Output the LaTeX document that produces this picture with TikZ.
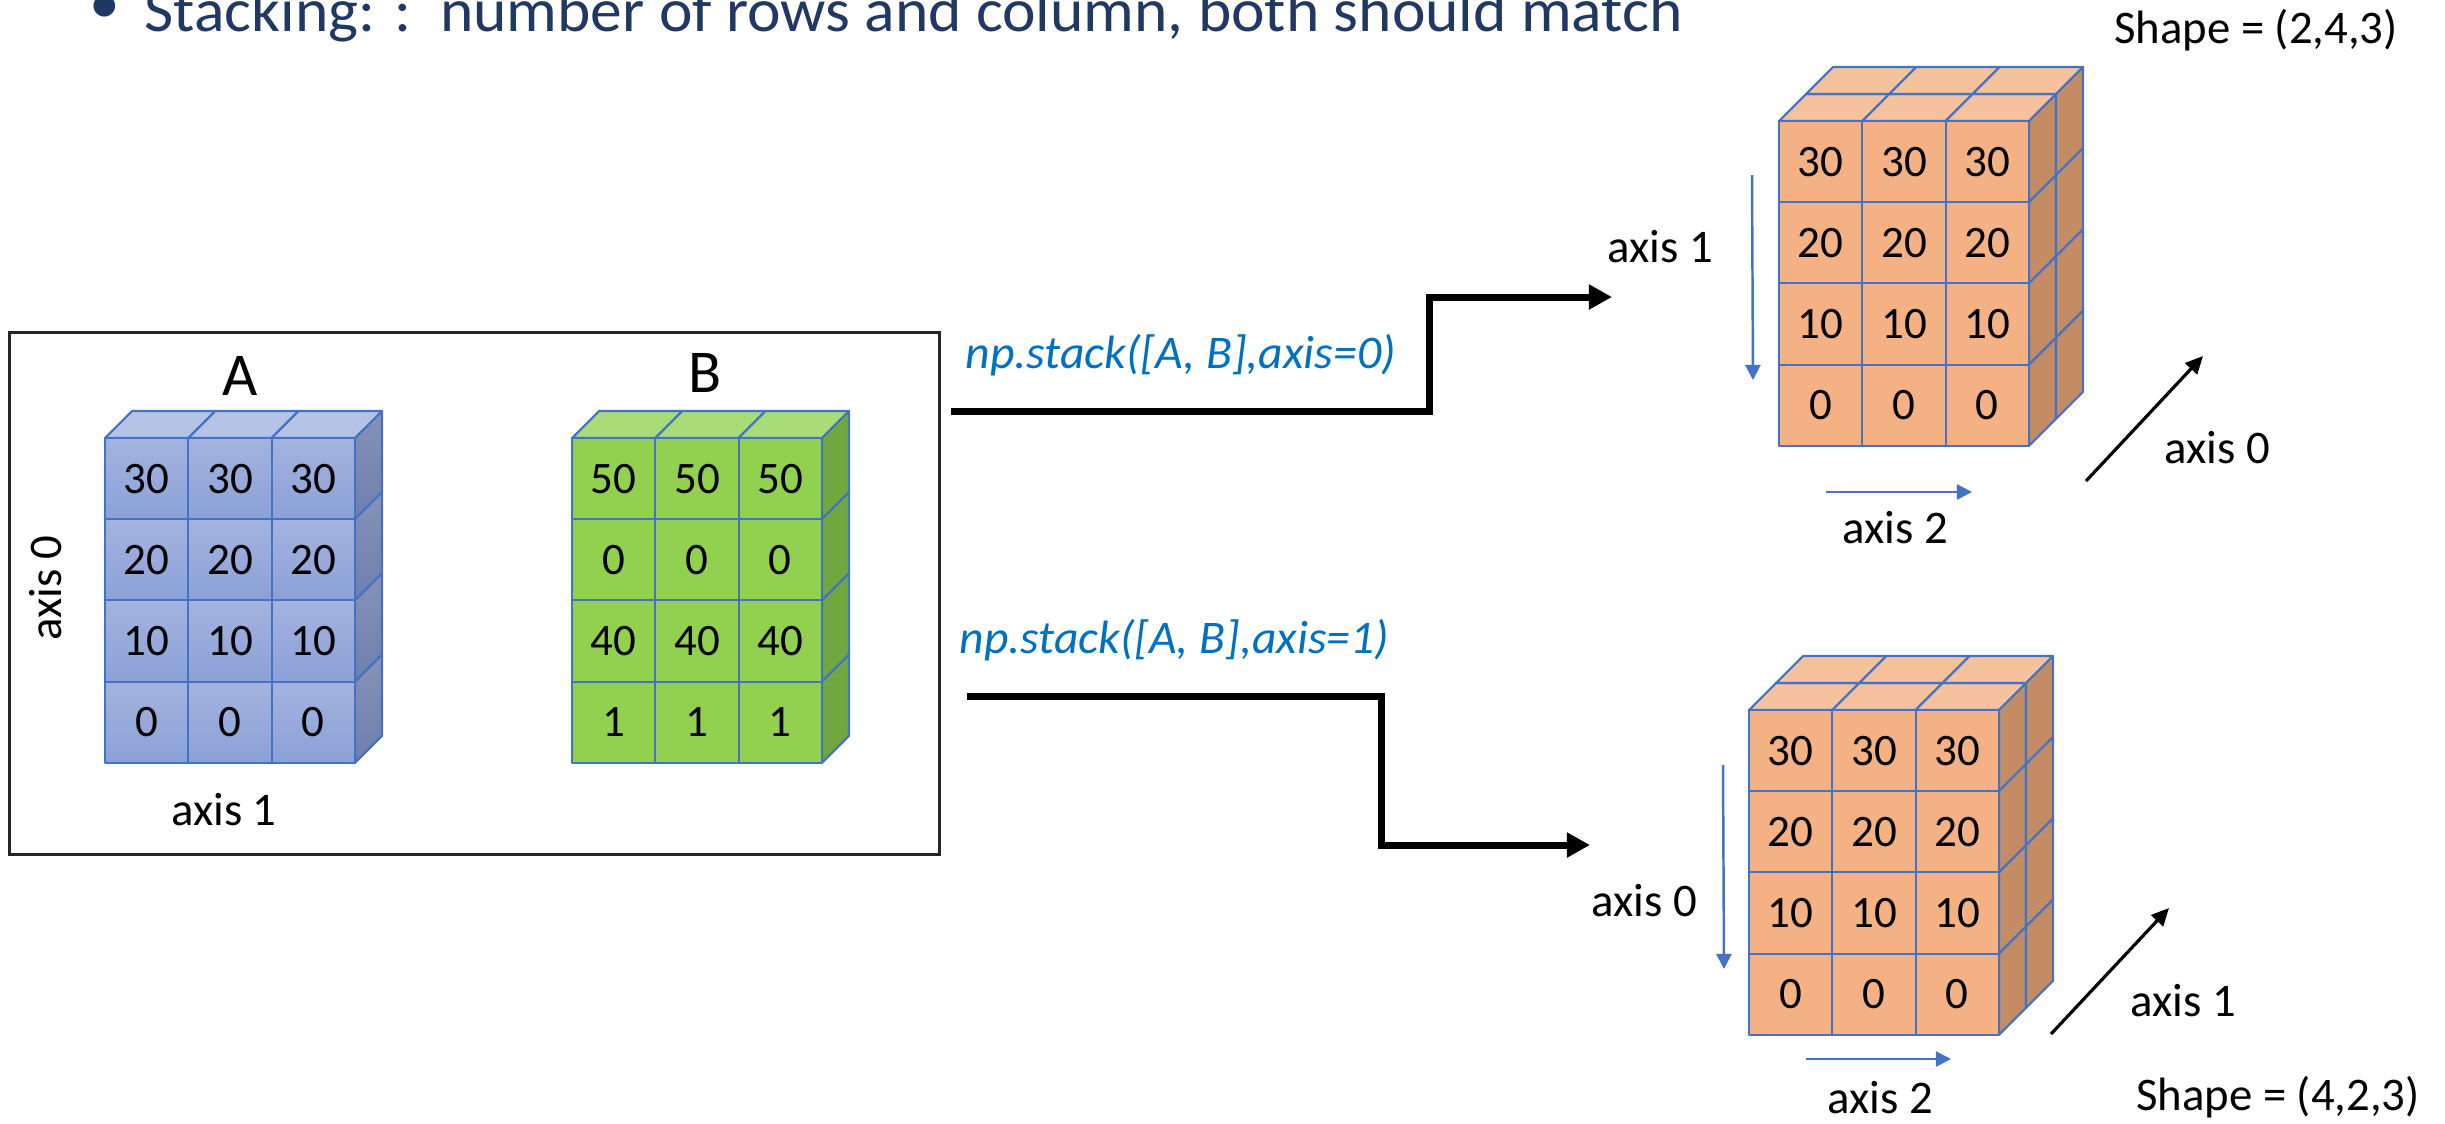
\documentclass[tikz,border=0pt]{standalone}
\usepackage{fontspec}
\usepackage{graphicx}
\setmainfont{Carlito}
\usetikzlibrary{arrows.meta}

\definecolor{titleblue}{HTML}{203864}
\definecolor{codeblue}{HTML}{0070C0}
\definecolor{edgeblue}{HTML}{4472C4}
\definecolor{axisblue}{HTML}{4472C4}
\definecolor{bluefrontA}{HTML}{A3B3DE}
\definecolor{bluefrontB}{HTML}{8BA1D7}
\definecolor{bluetopc}{HTML}{B4C3E6}
\definecolor{bluesideA}{HTML}{8792B6}
\definecolor{bluesideB}{HTML}{6E7FAE}
\definecolor{greenfrontc}{HTML}{92D050}
\definecolor{greentopc}{HTML}{A9DB76}
\definecolor{greensidec}{HTML}{70A83F}
\definecolor{orangefrontc}{HTML}{F4B183}
\definecolor{orangetopc}{HTML}{F5C29D}
\definecolor{orangesidec}{HTML}{C48C65}

% cube geometry (picture units: 1 unit = 0.01 cm)
\def\cubeW{83.33}
\def\cubeH{81.2}
\def\cubeDX{27}
\def\cubeDY{-27}

\tikzset{
  cubeedge/.style={draw=edgeblue, line width=0.6pt, line join=round},
  cell/.style={cubeedge, rectangle, inner sep=0pt, minimum width=0.8333cm,
    minimum height=0.812cm, font=\fontsize{12.8}{15}\selectfont},
  bluefront/.style={top color=bluefrontA, bottom color=bluefrontB},
  bluetop/.style={fill=bluetopc},
  blueside/.style={top color=bluesideA, bottom color=bluesideB},
  greenfront/.style={fill=greenfrontc},
  greentop/.style={fill=greentopc},
  greenside/.style={fill=greensidec},
  orangefront/.style={fill=orangefrontc},
  orangetop/.style={fill=orangetopc},
  orangeside/.style={fill=orangesidec},
  lbl/.style={inner sep=0pt, font=\fontsize{13.3}{16}\selectfont},
  biglbl/.style={inner sep=0pt, font=\fontsize{17.3}{20}\selectfont},
  codelbl/.style={inner sep=0pt, text=codeblue, font=\fontsize{13.3}{16}\selectfont\itshape},
  conn/.style={line width=2pt, line join=miter, -{Triangle[length=6.6pt,width=6.8pt]}},
  axisarrow/.style={draw=axisblue, line width=0.7pt, -{Triangle[length=4.3pt,width=4.3pt]}},
  deptharrow/.style={draw=black, line width=0.9pt, -{Triangle[length=5pt,width=4.6pt]}},
}

% #1 name, #2 x of front top-left, #3 y of front top-left, #4 layers,
% #5 palette, #6 row values from top to bottom
\newcommand{\cubeblock}[6]{%
  \foreach \k in {1,...,#4} {
    \foreach \c in {0,1,2} {
      \path[cubeedge, #5top]
        ({#2+\c*\cubeW+(\k-1)*\cubeDX},{#3+(\k-1)*\cubeDY})
        -- ++(\cubeW,0) -- ++(\cubeDX,\cubeDY) -- ++(-\cubeW,0) -- cycle;
    }
    \foreach \r in {0,1,2,3} {
      \path[cubeedge, #5side]
        ({#2+3*\cubeW+(\k-1)*\cubeDX},{#3+\r*\cubeH+(\k-1)*\cubeDY})
        -- ++(0,\cubeH) -- ++(\cubeDX,\cubeDY) -- ++(0,-\cubeH) -- cycle;
    }
  }
  \foreach \v [count=\r from 0] in {#6} {
    \foreach \c in {0,1,2} {
      \node[cell, #5front] (#1-\r-\c)
        at ({#2+(\c+0.5)*\cubeW},{#3+(\r+0.5)*\cubeH}) {\v};
    }
  }
}

\begin{document}
\begin{tikzpicture}[x=0.01cm, y=-0.01cm]
\useasboundingbox (0,0) rectangle (2445,1123);

% heading
\node[inner sep=0pt, text=titleblue, font=\fontsize{17.5}{21}\selectfont] (bullet) at (105,9) {•};
\node[anchor=base west, inner sep=0pt, text=titleblue, font=\fontsize{17.5}{21}\selectfont]
  (title) at (144,31.7)
  {\resizebox{15.37cm}{\height}{Stacking: :\ \ number of rows and column, both should match}};

% input arrays
\node[draw=black!85, line width=0.85pt, minimum width=9.29cm, minimum height=5.21cm,
  inner sep=0pt] (frame) at (474.5,593.5) {};
\cubeblock{A}{105}{438}{1}{blue}{30,20,10,0}
\cubeblock{B}{572}{438}{1}{green}{50,0,40,1}
\node[biglbl, anchor=base] (labA) at (240,395) {A};
\node[biglbl, anchor=base] (labB) at (705,392) {B};
\node[lbl, anchor=base, rotate=90] (axA0) at (61,588) {axis 0};
\node[lbl, anchor=base] (axA1) at (224,825) {axis 1};

% stacking along axis 0
\node[codelbl, anchor=base west] (code0) at (965,368)
  {\resizebox{4.30cm}{\height}{np.stack([A, B],axis=0)}};
\coordinate (s0) at (951,411);
\coordinate (e0) at (1612,297);
\draw[conn] (s0) -- ++(478,0) |- (e0);

\cubeblock{S}{1779}{121}{2}{orange}{30,20,10,0}
\coordinate (ua1s) at (1752,175);
\coordinate (ua1e) at (1753,380);
\draw[axisarrow] (ua1s) -- (ua1e);
\node[lbl, anchor=base] (ulab1) at (1660,262) {axis 1};
\coordinate (ua2s) at (1826,492);
\coordinate (ua2e) at (1972,492);
\draw[axisarrow] (ua2s) -- (ua2e);
\node[lbl, anchor=base] (ulab2) at (1895,543) {axis 2};
\coordinate (ua0s) at (2086,481);
\coordinate (ua0e) at (2203,356);
\draw[deptharrow] (ua0s) -- (ua0e);
\node[lbl, anchor=base] (ulab0) at (2217,463) {axis 0};
\node[lbl, anchor=base] (shape0) at (2256,43) {Shape = (2,4,3)};

% stacking along axis 1
\node[codelbl, anchor=base west] (code1) at (959,653)
  {\resizebox{4.29cm}{\height}{np.stack([A, B],axis=1)}};
\coordinate (s1) at (967,696);
\coordinate (e1) at (1590,845);
\draw[conn] (s1) -- ++(414,0) |- (e1);

\cubeblock{T}{1749}{710}{2}{orange}{30,20,10,0}
\coordinate (la0s) at (1723,765);
\coordinate (la0e) at (1724,969);
\draw[axisarrow] (la0s) -- (la0e);
\node[lbl, anchor=base] (llab0) at (1644,916) {axis 0};
\coordinate (la2s) at (1806,1059);
\coordinate (la2e) at (1951,1059);
\draw[axisarrow] (la2s) -- (la2e);
\node[lbl, anchor=base] (llab2) at (1880,1113) {axis 2};
\coordinate (la1s) at (2051,1034);
\coordinate (la1e) at (2169,908);
\draw[deptharrow] (la1s) -- (la1e);
\node[lbl, anchor=base] (llab1) at (2183,1016) {axis 1};
\node[lbl, anchor=base] (shape1) at (2278,1110) {Shape = (4,2,3)};
\end{tikzpicture}
\end{document}
